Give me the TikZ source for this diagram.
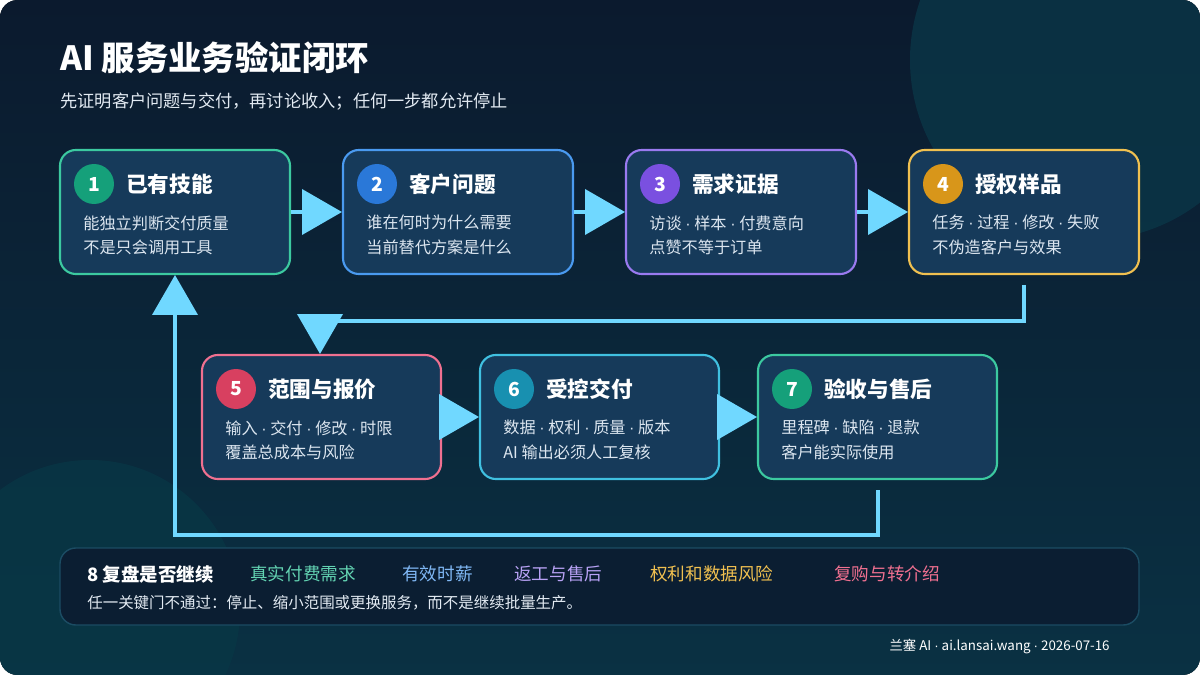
\documentclass[tikz,border=0pt]{standalone}
\usepackage{fontspec}
\setmainfont{Noto Sans CJK SC}
\newfontfamily\dotfont{Liberation Sans}
\usetikzlibrary{arrows.meta}
\definecolor{bgdark}{HTML}{0B1A2E}
\definecolor{cardfill}{HTML}{163A5A}
\definecolor{flow}{HTML}{70D8FF}
\definecolor{cTeal}{HTML}{3CC9A0}
\definecolor{cBlue}{HTML}{4A9AF0}
\definecolor{cPurple}{HTML}{9A7AF0}
\definecolor{cGold}{HTML}{F0C050}
\definecolor{cPink}{HTML}{F07090}
\definecolor{cCyan}{HTML}{40C0E0}
\definecolor{dTeal}{HTML}{15A07A}
\definecolor{dBlue}{HTML}{2A78D8}
\definecolor{dPurple}{HTML}{7A50E0}
\definecolor{dGold}{HTML}{D8961A}
\definecolor{dPink}{HTML}{D84060}
\definecolor{dCyan}{HTML}{1890B0}
\definecolor{bodytxt}{HTML}{DCE6F0}
\newcommand{\sep}{ {\dotfont ·} }
\tikzset{
  card/.style={draw=#1, line width=1.2pt, fill=cardfill, rounded corners=9pt},
  numdot/.style={circle, fill=#1, minimum size=0.8cm, inner sep=0pt, text=white, font=\fontsize{11}{11}\selectfont\bfseries},
  ctitle/.style={anchor=west, inner sep=0pt, text=white, font=\fontsize{12.3}{13}\selectfont\bfseries},
  cbody/.style={anchor=north west, text=bodytxt, align=left, inner sep=0pt, font=\fontsize{9.2}{13.8}\selectfont},
  flowline/.style={draw=flow, line width=2.3pt, -{Triangle[length=0.8cm,width=0.9cm]}},
  gate/.style={anchor=west, inner sep=0pt, font=\fontsize{10}{10}\selectfont},
}
% card: #1 name, #2 x, #3 y, #4 width, #5 border, #6 dot, #7 number, #8 title, #9 body
\newcommand{\stepcard}[9]{%
  \draw[card=#5] (#2,#3) rectangle ++(#4,124);
  \coordinate (#1nw) at (#2,#3);
  \node[numdot=#6] (#1n) at ([shift={(34,34)}]#1nw) {#7};
  \node[ctitle] (#1t) at ([shift={(66,34)}]#1nw) {#8};
  \node[cbody] (#1b) at ([shift={(23,65)}]#1nw) {#9};
}
\begin{document}
\begin{tikzpicture}[x=0.02cm, y=-0.02cm]
  \useasboundingbox (0,0) rectangle (1200,675);
  \begin{scope}
    \clip[rounded corners=10pt] (0,0) rectangle (1200,675);
    \fill[top color=bgdark, bottom color=bgdark!75!cyan!40!bgdark] (0,0) rectangle (1200,675);
    \fill[bgdark!60!cyan!30!bgdark, opacity=0.8] (1090,60) circle (180);
    \fill[bgdark!50!teal!60!bgdark, opacity=0.7] (90,610) circle (150);
  \end{scope}

  \node[anchor=west, inner sep=0pt, text=white, font=\fontsize{19}{20}\selectfont\bfseries] (title) at (60,58) {AI 服务业务验证闭环};
  \node[anchor=west, inner sep=0pt, text=bodytxt!80, font=\fontsize{9.8}{10}\selectfont] (sub) at (60,102) {先证明客户问题与交付，再讨论收入；任何一步都允许停止};

  \stepcard{a}{60}{150}{230}{cTeal}{dTeal}{1}{已有技能}{能独立判断交付质量\\不是只会调用工具}
  \stepcard{b}{343}{150}{230}{cBlue}{dBlue}{2}{客户问题}{谁在何时为什么需要\\当前替代方案是什么}
  \stepcard{c}{626}{150}{230}{cPurple}{dPurple}{3}{需求证据}{访谈\sep 样本\sep 付费意向\\点赞不等于订单}
  \stepcard{d}{909}{150}{230}{cGold}{dGold}{4}{授权样品}{任务\sep 过程\sep 修改\sep 失败\\不伪造客户与效果}
  \stepcard{e}{202}{355}{239}{cPink}{dPink}{5}{范围与报价}{输入\sep 交付\sep 修改\sep 时限\\覆盖总成本与风险}
  \stepcard{f}{480}{355}{239}{cCyan}{dCyan}{6}{受控交付}{数据\sep 权利\sep 质量\sep 版本\\AI 输出必须人工复核}
  \stepcard{g}{758}{355}{239}{cTeal}{dTeal}{7}{验收与售后}{里程碑\sep 缺陷\sep 退款\\客户能实际使用}

  \coordinate (ab1) at (291,212); \coordinate (ab2) at (342,212);
  \coordinate (bc1) at (574,212); \coordinate (bc2) at (625,212);
  \coordinate (cd1) at (857,212); \coordinate (cd2) at (908,212);
  \coordinate (ef1) at (442,417); \coordinate (ef2) at (479,417);
  \coordinate (fg1) at (720,417); \coordinate (fg2) at (757,417);
  \foreach \s/\t in {ab1/ab2, bc1/bc2, cd1/cd2, ef1/ef2, fg1/fg2}
    \draw[flowline] (\s) -- (\t);

  \coordinate (dr) at (1024,285); \coordinate (er) at (320,354);
  \draw[flowline] (dr) |- (672,321) -| (er);
  \coordinate (gl) at (878,490); \coordinate (al) at (175,275);
  \draw[flowline] (gl) |- (500,535) -| (al);

  \draw[draw=cCyan!30!bgdark, line width=0.8pt, fill=bgdark!85!cyan!12!bgdark, rounded corners=9pt] (60,548) rectangle (1139,625);
  \node[gate, text=white, font=\fontsize{10.5}{10}\selectfont\bfseries] (review) at (87,574) {8 复盘是否继续};
  \node[gate, text=cTeal!80!white] (g1) at (250,574) {真实付费需求};
  \node[gate, text=cBlue!70!white] (g2) at (402,574) {有效时薪};
  \node[gate, text=cPurple!70!white] (g3) at (514,574) {返工与售后};
  \node[gate, text=cGold] (g4) at (650,574) {权利和数据风险};
  \node[gate, text=cPink] (g5) at (834,574) {复购与转介绍};
  \node[anchor=west, inner sep=0pt, text=bodytxt!80, font=\fontsize{8.8}{9}\selectfont] (rule) at (87,603) {任一关键门不通过：停止、缩小范围或更换服务，而不是继续批量生产。};
  \node[anchor=east, inner sep=0pt, text=white!55, font=\fontsize{7.6}{8}\selectfont] (foot) at (1110,647) {兰塞 AI\sep ai.lansai.wang\sep 2026-07-16};
\end{tikzpicture}
\end{document}
